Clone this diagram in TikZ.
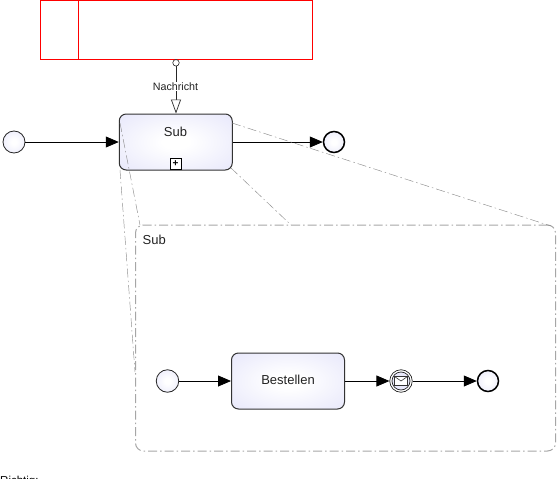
\documentclass[tikz,border=0pt]{standalone}
\usepackage{fontspec}
\setmainfont{Liberation Sans}
\usetikzlibrary{arrows.meta,shadings}
\definecolor{bpmnedge}{HTML}{E9E9FB}
\definecolor{lblack}{HTML}{222222}
\pgfdeclareradialshading{bpmnfill}{\pgfpoint{0bp}{0bp}}{color(0bp)=(white);color(6bp)=(white);color(34bp)=(bpmnedge);color(50bp)=(bpmnedge)}
\tikzset{
  x=1pt,y=-1pt,
  every node/.style={font=\fontsize{13}{15}\selectfont,text=lblack},
  taskbox/.style={draw=black!80,line width=1pt,rounded corners=7pt,shading=bpmnfill,minimum width=113pt,minimum height=56pt,inner sep=0pt},
  startev/.style={circle,draw=black!85,line width=0.8pt,shading=bpmnfill,minimum size=22pt,inner sep=0pt},
  endev/.style={circle,draw=black,line width=1.5pt,shading=bpmnfill,minimum size=21pt,inner sep=0pt},
  flow/.style={draw=black,line width=0.8pt,-{Triangle[length=13pt,width=11pt,fill=black]}},
  msgflow/.style={draw=black!85,line width=0.7pt,-{Triangle[open,length=14pt,width=10pt,fill=white]}},
  zoomline/.style={draw=black!45,line width=0.45pt,dash pattern=on 9pt off 3pt on 1.5pt off 3pt},
  expanded/.style={draw=black!35,line width=1pt,rounded corners=8pt,dash pattern=on 9pt off 3pt on 1.5pt off 3pt},
  poolline/.style={draw=red,line width=1pt},
}
\begin{document}
\begin{tikzpicture}
\path[use as bounding box] (0,0) rectangle (557,479);
\clip (0,0) rectangle (557,479);
% pool
\node[poolline,minimum width=271.5pt,minimum height=59pt,inner sep=0pt] (pool) at (176.25,30) {};
\draw[poolline] (78,0.5) -- (78,59.5);
% expanded sub-process frame
\node[expanded,minimum width=420pt,minimum height=226pt,inner sep=0pt] (frame) at (345.5,338) {};
\node[anchor=west,inner sep=0pt] (framelabel) at (142.5,240) {Sub};
% top row
\node[startev] (s1) at (14,142) {};
\node[taskbox] (sub) at (175.75,142) {};
\node (sublabel) at (175.5,132) {Sub};
\node[endev] (e1) at (334,142) {};
\node[draw=black,line width=0.9pt,fill=white,minimum size=11pt,inner sep=0pt] (marker) at (175.5,164) {};
\node[font=\fontsize{10}{10}\selectfont\bfseries,text=black,inner sep=0pt] (plus) at (175.5,163.8) {+};
% message flow
\node[circle,draw=black!85,line width=0.6pt,fill=white,minimum size=6.5pt,inner sep=0pt] (mf) at (176,62.8) {};
\draw[msgflow] (mf) -- (sub.north -| mf);
\node[fill=white,inner sep=1pt,font=\fontsize{10.7}{12}\selectfont] (msglabel) at (175.5,86.5) {Nachricht};
% flows
\draw[flow] (s1) -- (sub);
\draw[flow] (sub) -- (e1);
% zoom guides
\coordinate (z1) at (232,123);
\coordinate (z2) at (551,226);
\coordinate (z3) at (231,168);
\coordinate (z4) at (291,225);
\coordinate (z5) at (120,123);
\coordinate (z6) at (140,225);
\coordinate (z7) at (120,170);
\coordinate (z8) at (135,372);
\draw[zoomline] (z1) -- (z2);
\draw[zoomline] (z3) -- (z4);
\draw[zoomline] (z5) -- (z6);
\draw[zoomline] (z7) -- (z8);
% inner process
\node[startev,minimum size=22.5pt] (s2) at (167.5,381) {};
\node[taskbox] (task) at (288,381) {};
\node (tasklabel) at (288,380) {Bestellen};
\node[circle,draw=black!85,line width=0.7pt,fill=white,minimum size=22.5pt,inner sep=0pt] (ev) at (401,381) {};
\node[circle,draw=black!85,line width=0.7pt,fill=bpmnedge,minimum size=18pt,inner sep=0pt] (evin) at (401,381) {};
\node[draw=black!80,line width=0.6pt,fill=white,minimum width=12.5pt,minimum height=8.5pt,inner sep=0pt] (env) at (401,381) {};
\draw[black!80,line width=0.6pt] (env.north west) -- (env.center) -- (env.north east);
\node[endev] (e2) at (488,381) {};
\draw[flow] (s2) -- (task);
\draw[flow] (task) -- (ev);
\draw[flow] (ev) -- (e2);
% cut-off caption
\node[anchor=base west,inner sep=0pt,text=black,font=\fontsize{11.5}{13}\selectfont] (caption) at (0,484.5) {Richtig:};
\end{tikzpicture}
\end{document}
